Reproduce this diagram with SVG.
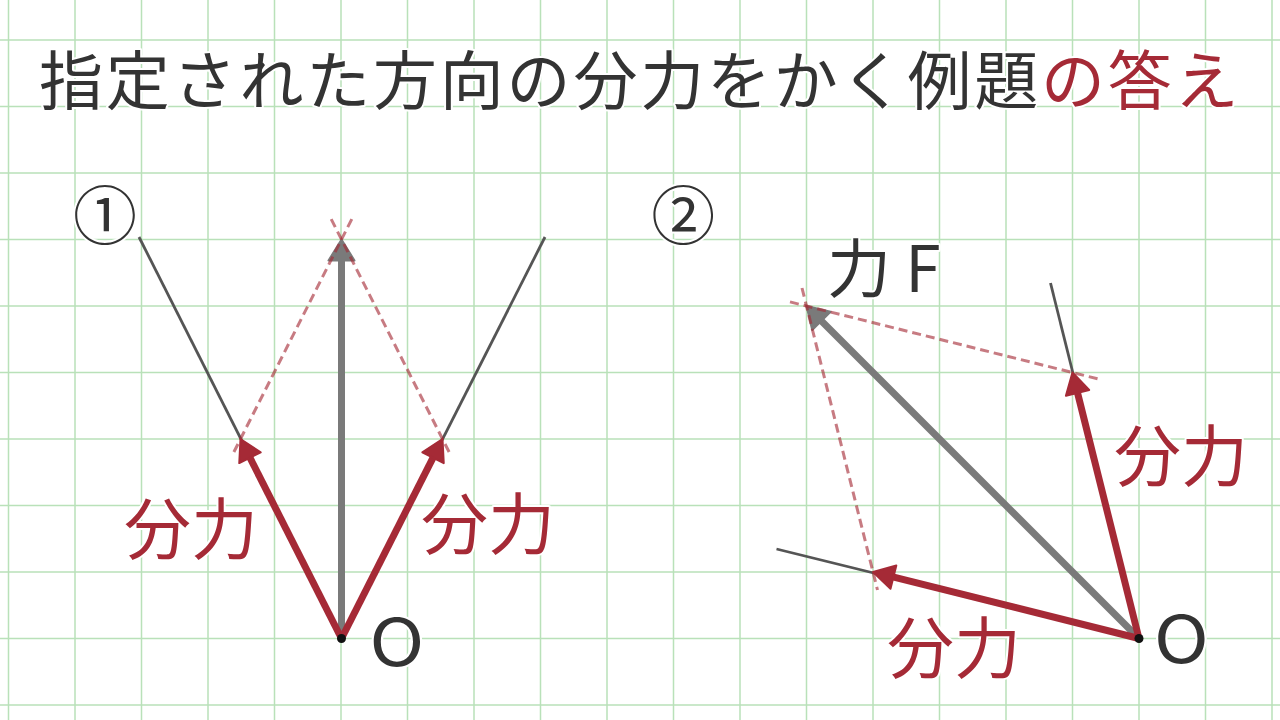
<svg xmlns="http://www.w3.org/2000/svg" width="1280" height="720" viewBox="0 0 1280 720">
<defs>
<style>
.grid line{stroke:#b9e1b9;stroke-width:1.5}
.txt{font-family:"Noto Sans CJK JP","Noto Sans",sans-serif;font-weight:400;paint-order:stroke;stroke:#fff;stroke-width:4;stroke-linejoin:round}
.dark{fill:#333333}
.red{fill:#a52a36}
.thin{stroke:#555;stroke-width:2.8;fill:none}
.dash{stroke:#a52a36;stroke-opacity:0.62;stroke-width:3;stroke-dasharray:9 5;fill:none}
.vr{stroke:#a52a36;stroke-width:7;fill:none;marker-end:url(#ahR)}
.vg{stroke:#7a7a7a;stroke-width:7;fill:none;marker-end:url(#ahG)}
.dot{fill:#111}
</style>
<marker id="ahR" markerUnits="userSpaceOnUse" markerWidth="40" markerHeight="40" viewBox="-20 -20 40 40" refX="0" refY="0" orient="auto">
<path d="M8,0 L-13,-12 L-13,12 Z" fill="#a52a36" stroke="#a52a36" stroke-width="2" stroke-linejoin="round"/>
</marker>
<marker id="ahG" markerUnits="userSpaceOnUse" markerWidth="40" markerHeight="40" viewBox="-20 -20 40 40" refX="0" refY="0" orient="auto">
<path d="M8,0 L-13,-13 L-13,13 Z" fill="#7a7a7a" stroke="#7a7a7a" stroke-width="2" stroke-linejoin="round"/>
</marker>
</defs>
<rect width="1280" height="720" fill="#ffffff"/>
<g class="grid">
<line x1="8.5" y1="0" x2="8.5" y2="720"/><line x1="75" y1="0" x2="75" y2="720"/><line x1="141.5" y1="0" x2="141.5" y2="720"/><line x1="208" y1="0" x2="208" y2="720"/><line x1="274.5" y1="0" x2="274.5" y2="720"/><line x1="341" y1="0" x2="341" y2="720"/><line x1="407.5" y1="0" x2="407.5" y2="720"/><line x1="474" y1="0" x2="474" y2="720"/><line x1="540.5" y1="0" x2="540.5" y2="720"/><line x1="607" y1="0" x2="607" y2="720"/><line x1="673.5" y1="0" x2="673.5" y2="720"/><line x1="740" y1="0" x2="740" y2="720"/><line x1="806.5" y1="0" x2="806.5" y2="720"/><line x1="873" y1="0" x2="873" y2="720"/><line x1="939.5" y1="0" x2="939.5" y2="720"/><line x1="1006" y1="0" x2="1006" y2="720"/><line x1="1072.5" y1="0" x2="1072.5" y2="720"/><line x1="1139" y1="0" x2="1139" y2="720"/><line x1="1205.5" y1="0" x2="1205.5" y2="720"/><line x1="1272" y1="0" x2="1272" y2="720"/>
<line x1="0" y1="40" x2="1280" y2="40"/><line x1="0" y1="106.5" x2="1280" y2="106.5"/><line x1="0" y1="173" x2="1280" y2="173"/><line x1="0" y1="239.5" x2="1280" y2="239.5"/><line x1="0" y1="306" x2="1280" y2="306"/><line x1="0" y1="372.5" x2="1280" y2="372.5"/><line x1="0" y1="439" x2="1280" y2="439"/><line x1="0" y1="505.5" x2="1280" y2="505.5"/><line x1="0" y1="572" x2="1280" y2="572"/><line x1="0" y1="638.5" x2="1280" y2="638.5"/><line x1="0" y1="705" x2="1280" y2="705"/>
</g>
<g id="title">
<text class="txt dark" x="39" y="103.5" font-size="64" letter-spacing="2.8">指定された方向の分力をかく例題</text>
<text class="txt red" x="1041" y="103.5" font-size="64" letter-spacing="2.8">の答え</text>
</g>
<g id="connectors">
<line class="thin" x1="341.5" y1="638.5" x2="139" y2="237"/>
<line class="thin" x1="341.5" y1="638.5" x2="545" y2="237"/>
<line class="vg" x1="341.5" y1="638.5" x2="341.5" y2="247.5"/>
<line class="dash" x1="233.9" y1="452" x2="353.9" y2="215"/>
<line class="dash" x1="449.1" y1="452" x2="329.1" y2="215"/>
<line class="vr" x1="341.5" y1="638.5" x2="244.1" y2="446.1"/>
<line class="vr" x1="341.5" y1="638.5" x2="438.9" y2="446.1"/>
<line class="thin" x1="1139" y1="638.5" x2="1050.5" y2="283"/>
<line class="thin" x1="1139" y1="638.5" x2="776.5" y2="549"/>
<line class="vg" x1="1139" y1="638.5" x2="812.2" y2="311.7"/>
<line class="dash" x1="790" y1="301.9" x2="1100" y2="379.4"/>
<line class="dash" x1="802" y1="288" x2="877.5" y2="590"/>
<line class="vr" x1="1139" y1="638.5" x2="1074.4" y2="380.3"/>
<line class="vr" x1="1139" y1="638.5" x2="880.8" y2="573.9"/>
</g>
<g id="diagram1">
<text class="txt dark" x="73" y="238.8" font-size="64">①</text>
<circle class="dot" cx="341.5" cy="638.5" r="4.5"/>
<text class="txt dark" x="397" y="666" font-size="66" text-anchor="middle" transform="translate(397 0) scale(1.12 1) translate(-397 0)">O</text>
<text class="txt red" x="124" y="554" font-size="67">分力</text>
<text class="txt red" x="421" y="549" font-size="67">分力</text>
</g>
<g id="diagram2">
<text class="txt dark" x="651.3" y="238.5" font-size="64">②</text>
<text class="txt dark" x="827" y="292" font-size="64">力 F</text>
<circle class="dot" cx="1139" cy="638.5" r="4.5"/>
<text class="txt dark" x="1181.5" y="663" font-size="66" text-anchor="middle" transform="translate(1181.5 0) scale(1.12 1) translate(-1181.5 0)">O</text>
<text class="txt red" x="1114" y="481" font-size="67">分力</text>
<text class="txt red" x="887" y="673" font-size="67">分力</text>
</g>
</svg>
